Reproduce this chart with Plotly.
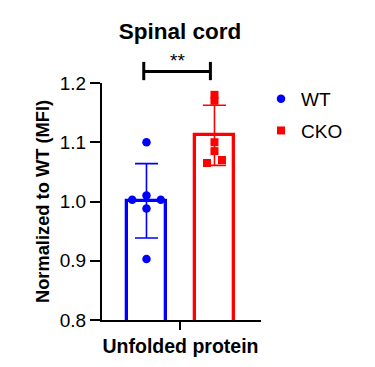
import numpy as np
import plotly.graph_objects as go

# ---- data ----
groups = ["WT", "CKO"]
category = "Unfolded protein"
wt_values = [1.10, 1.003, 1.003, 1.01, 0.988, 0.903]
cko_values = [1.18, 1.17, 1.10, 1.085, 1.065, 1.07]
wt_jitter = [0.0, -0.21, 0.21, 0.0, 0.0, 0.0]
cko_jitter = [0.0, 0.0, 0.0, 0.0, -0.11, 0.11]
y_ticks = [0.8, 0.9, 1.0, 1.1, 1.2]
y_tick_labels = ["0.8", "0.9", "1.0", "1.1", "1.2"]
significance = "**"

colors = {"WT": "#0000FF", "CKO": "#FF0000"}
symbols = {"WT": "circle", "CKO": "square"}
positions = {"WT": 0.0, "CKO": 1.0}
series = {"WT": (wt_values, wt_jitter), "CKO": (cko_values, cko_jitter)}

FONT = "Liberation Sans, Arial, sans-serif"

fig = go.Figure()
for g in groups:
    vals, jit = series[g]
    mean = float(np.mean(vals))
    sd = float(np.std(vals, ddof=1))
    fig.add_trace(go.Bar(
        x=[positions[g]], y=[mean], width=0.585,
        marker=dict(color="rgba(255,255,255,0)", line=dict(color=colors[g], width=3.3)),
        error_y=dict(type="data", array=[sd], visible=True, color=colors[g],
                     thickness=1.6, width=11.5),
        showlegend=False, hoverinfo="skip",
    ))
for g in groups:
    vals, jit = series[g]
    fig.add_trace(go.Scatter(
        x=[positions[g] + j for j in jit], y=vals, mode="markers", name=g,
        marker=dict(color=colors[g], symbol=symbols[g], size=8.5 if g == "WT" else 8,
                    line=dict(width=0)),
        legendgroup=g,
    ))

# significance bracket
x0 = positions["WT"] - 0.04
x1 = positions["CKO"] - 0.06
line_style = dict(color="black", width=3)
fig.add_shape(type="line", xref="x", yref="paper", x0=x0, x1=x1, y0=1.048, y1=1.048, line=line_style)
fig.add_shape(type="line", xref="x", yref="paper", x0=x0, x1=x0, y0=1.012, y1=1.089, line=line_style)
fig.add_shape(type="line", xref="x", yref="paper", x0=x1, x1=x1, y0=1.012, y1=1.089, line=line_style)
fig.add_annotation(x=(x0 + x1) / 2, y=1.095, xref="x", yref="paper", text=significance,
                   showarrow=False, font=dict(family=FONT, size=19, color="black"),
                   yanchor="middle")

fig.update_layout(
    width=375, height=367,
    margin=dict(l=102, r=114, t=83, b=47, autoexpand=False),
    paper_bgcolor="white", plot_bgcolor="white",
    font=dict(family=FONT, color="black"),
    title=dict(text="<b>Spinal cord</b>", x=0.49, xref="paper", xanchor="center",
               y=1 - 31 / 367, yref="container", yanchor="middle",
               font=dict(family=FONT, size=22.5, color="black")),
    xaxis=dict(range=[-0.654, 1.684], tickvals=[0.5], ticktext=[f"<b>{category}</b>"],
               showline=True, linecolor="black", linewidth=2, ticks="outside",
               ticklen=8, tickwidth=2, tickcolor="black", showgrid=False, zeroline=False,
               automargin=False,
               tickfont=dict(family=FONT, size=19.5, color="black")),
    yaxis=dict(range=[0.8, 1.2], tickvals=y_ticks, ticktext=y_tick_labels,
               showline=True, linecolor="black", linewidth=2, ticks="outside",
               ticklen=10, tickwidth=2, tickcolor="black", showgrid=False, zeroline=False,
               automargin=False,
               tickfont=dict(family=FONT, size=19, color="black"),
               title=dict(text="<b>Normalized to WT (MFI)</b>", standoff=5,
                          font=dict(family=FONT, size=18.3, color="black"))),
    legend=dict(x=1.0, xref="paper", y=1.013, yref="paper", xanchor="left", yanchor="top",
                font=dict(family=FONT, size=19, color="black"),
                tracegroupgap=4, itemwidth=30, bgcolor="rgba(0,0,0,0)"),
    bargap=0,
)

fig.write_html("out.html", config={"displayModeBar": False},
               post_script="document.body.style.margin='0';document.body.style.overflow='hidden';")
